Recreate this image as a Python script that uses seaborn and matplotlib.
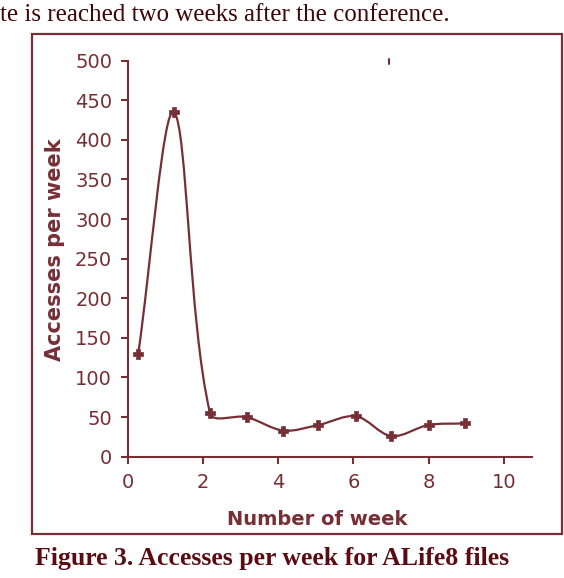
"""
Accesses per week for ALife8 files (smoothed line chart, Excel style)
"""

# %% ---- requirements and constants ------------------------
import numpy as np
import pandas as pd
import matplotlib
matplotlib.use("Agg")
import matplotlib.pyplot as plt
from matplotlib.path import Path
from matplotlib.patches import PathPatch, Rectangle
from matplotlib.lines import Line2D
import seaborn as sns

week = [0.28, 1.23, 2.19, 3.16, 4.14, 5.07, 6.07, 7.01, 8.0, 8.98]
accesses = [130, 435, 55, 50, 33, 40, 51, 26, 40, 42]

x_ticks = [0, 2, 4, 6, 8, 10]
y_ticks = [0, 50, 100, 150, 200, 250, 300, 350, 400, 450, 500]

LINE = "#772f36"
CAPTION = "#5a0c12"


# %% ---- helpers ------------------------
def smooth_path(ax, xs, ys):
    # bezier through the points, tangents weighted by segment length (screen units)
    pts = ax.transData.transform(np.column_stack([xs, ys]))
    n = len(pts)
    verts = [pts[0]]
    codes = [Path.MOVETO]
    for i in range(n - 1):
        p0 = pts[max(i - 1, 0)]
        p1, p2 = pts[i], pts[i + 1]
        p3 = pts[min(i + 2, n - 1)]
        d01 = np.hypot(*(p1 - p0))
        d12 = np.hypot(*(p2 - p1))
        d23 = np.hypot(*(p3 - p2))
        c1 = p1 + (p2 - p0) * d12 / (d01 + d12) / 3
        c2 = p2 - (p3 - p1) * d12 / (d12 + d23) / 3
        verts += [c1, c2, p2]
        codes += [Path.CURVE4] * 3
    verts = ax.transData.inverted().transform(np.array(verts))
    return Path(verts, codes)


# %% ---- plot ------------------------
sns.set_theme(style="white")
plt.rcParams["font.family"] = ["DejaVu Sans"]

fig = plt.figure(figsize=(5.64, 5.78), dpi=100)
ax = fig.add_axes([0.2264, 0.2099, 0.7163, 0.6851])

df = pd.DataFrame({"week": week, "accesses": accesses})

ax.set_xlim(0, 10.74)
ax.set_ylim(0, 500)

patch = PathPatch(smooth_path(ax, week, accesses), facecolor="none",
                  edgecolor=LINE, lw=1.6, zorder=2)
ax.add_patch(patch)
sns.scatterplot(data=df, x="week", y="accesses", marker="P", s=55,
                color=LINE, edgecolor=LINE, linewidth=0.5, ax=ax, zorder=3)

ax.set_xticks(x_ticks)
ax.set_yticks(y_ticks)
ax.tick_params(axis="both", direction="out", length=4.7, width=1.5,
               bottom=True, left=True,
               color=LINE, labelcolor=LINE, labelsize=14, pad=6.5)
ax.tick_params(axis="x", pad=7)
sns.despine(ax=ax)
for side in ["left", "bottom"]:
    ax.spines[side].set_color(LINE)
    ax.spines[side].set_linewidth(1.5)

ax.set_xlabel("Number of week", fontsize=14, fontweight="bold", color=LINE)
ax.set_ylabel("Accesses per week", fontsize=15, fontweight="bold", color=LINE)
ax.xaxis.set_label_coords(0.47, -0.135)
ax.yaxis.set_label_coords(-0.156, 0.522)

# outer chart frame
fig.patches.append(Rectangle((32 / 564, 1 - 534 / 578), 530 / 564, 500 / 578,
                             transform=fig.transFigure, fill=False,
                             edgecolor=LINE, lw=1.6))
# small stray mark near the top of the plot area
fig.add_artist(Line2D([389 / 564, 389 / 564], [1 - 59 / 578, 1 - 64 / 578],
                      transform=fig.transFigure, color=LINE, lw=1.5))

fig.text(0.0, 1 - 15 / 578, "te is reached two weeks after the conference.",
         family="Liberation Serif", fontsize=18, color="#3e0608",
         ha="left", va="center")
fig.text(0.483, 1 - 558 / 578, "Figure 3. Accesses per week for ALife8 files",
         family="Liberation Serif", fontsize=18.5, fontweight="bold",
         color=CAPTION, ha="center", va="center")

fig.savefig("out.png", dpi=100, facecolor="white")
